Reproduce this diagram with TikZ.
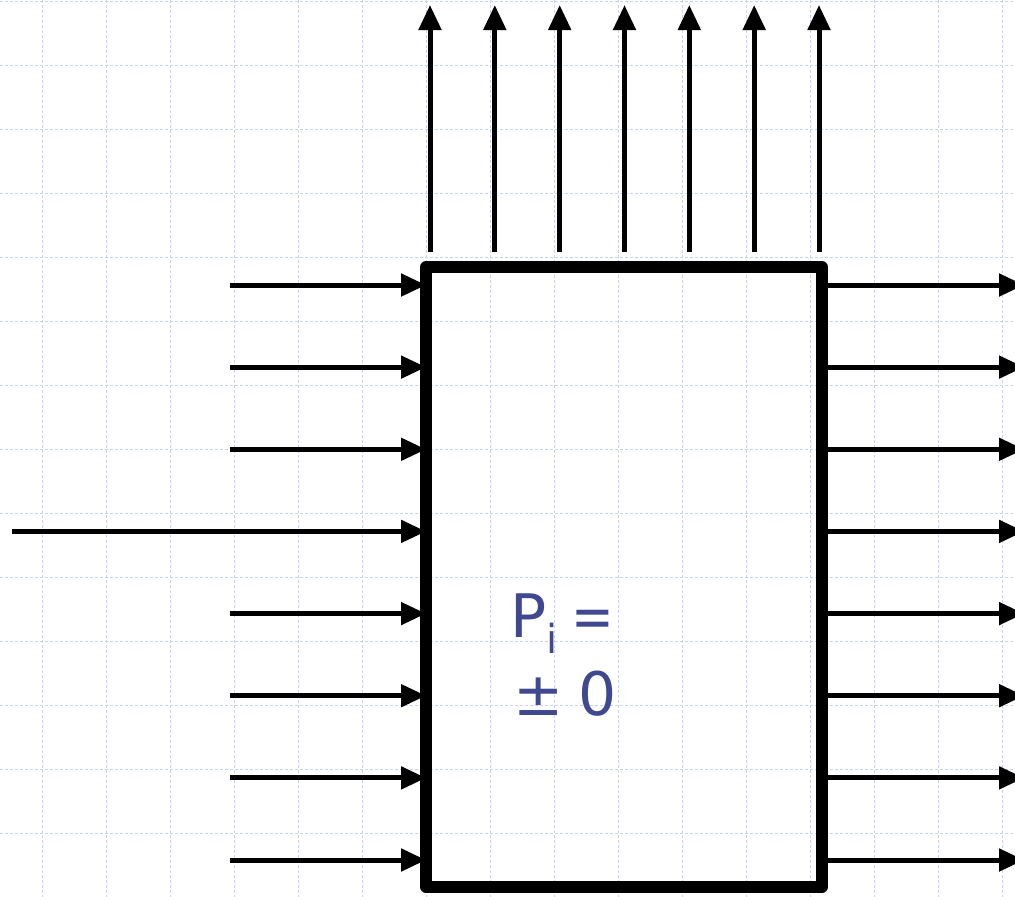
\documentclass[tikz,border=0pt]{standalone}
\usepackage{fontspec}
\setmainfont{DejaVu Sans}
\usetikzlibrary{arrows.meta}
\definecolor{gridblue}{RGB}{200,210,248}
\definecolor{txtblue}{RGB}{64,72,144}
\begin{document}
\begin{tikzpicture}[x=1pt,y=-1pt,
  gridline/.style={gridblue,line width=1pt,dash pattern=on 2.5pt off 2.5pt},
  flow/.style={line width=5pt,-{Triangle[length=25pt,width=22pt]}},
  boxstyle/.style={draw,line width=11.5pt,line join=round,minimum width=396pt,minimum height=620pt,inner sep=0pt,outer sep=0pt},
  lbl/.style={txtblue,inner sep=0pt,anchor=base west,font=\fontsize{60}{60}\selectfont}]
\useasboundingbox (0,0) rectangle (1015,897);
% grid
\foreach \gx in {42,106,...,1002} \draw[gridline] (\gx,0) -- (\gx,897);
\foreach \gy in {1.5,65.5,...,897} \draw[gridline] (0,\gy) -- (1015,\gy);
% box
\node[boxstyle] (box) at (624,577) {};
\node[lbl] (t1) at (510,637) {P\raisebox{-16pt}{\fontsize{40}{40}\selectfont i}\hspace{14pt}\scalebox{0.85}[1]{=}};
\node[lbl] (t2) at (513,715) {±\hspace{15pt}0};
% left inputs
\foreach \i/\yy/\xs in {1/285/230,2/367.1/230,3/449.3/230,4/531.4/12,5/613.6/230,6/695.7/230,7/777.9/230,8/860/230}{
  \coordinate (in\i) at (\xs,\yy);
  \draw[flow] (in\i) -- (in\i -| box.west);
}
% right outputs
\foreach \i/\yy in {1/285,2/367.1,3/449.3,4/531.4,5/613.6,6/695.7,7/777.9,8/860}{
  \coordinate (out\i) at (1024,\yy);
  \draw[flow] (out\i -| box.east) -- (out\i);
}
% top outputs
\foreach \i/\xx in {1/430,2/494.8,3/559.7,4/624.5,5/689.3,6/754.2,7/819}{
  \coordinate (up\i) at (\xx,5);
  \coordinate (upbase\i) at (\xx,252);
  \draw[flow] (upbase\i) -- (up\i);
}
\end{tikzpicture}
\end{document}
